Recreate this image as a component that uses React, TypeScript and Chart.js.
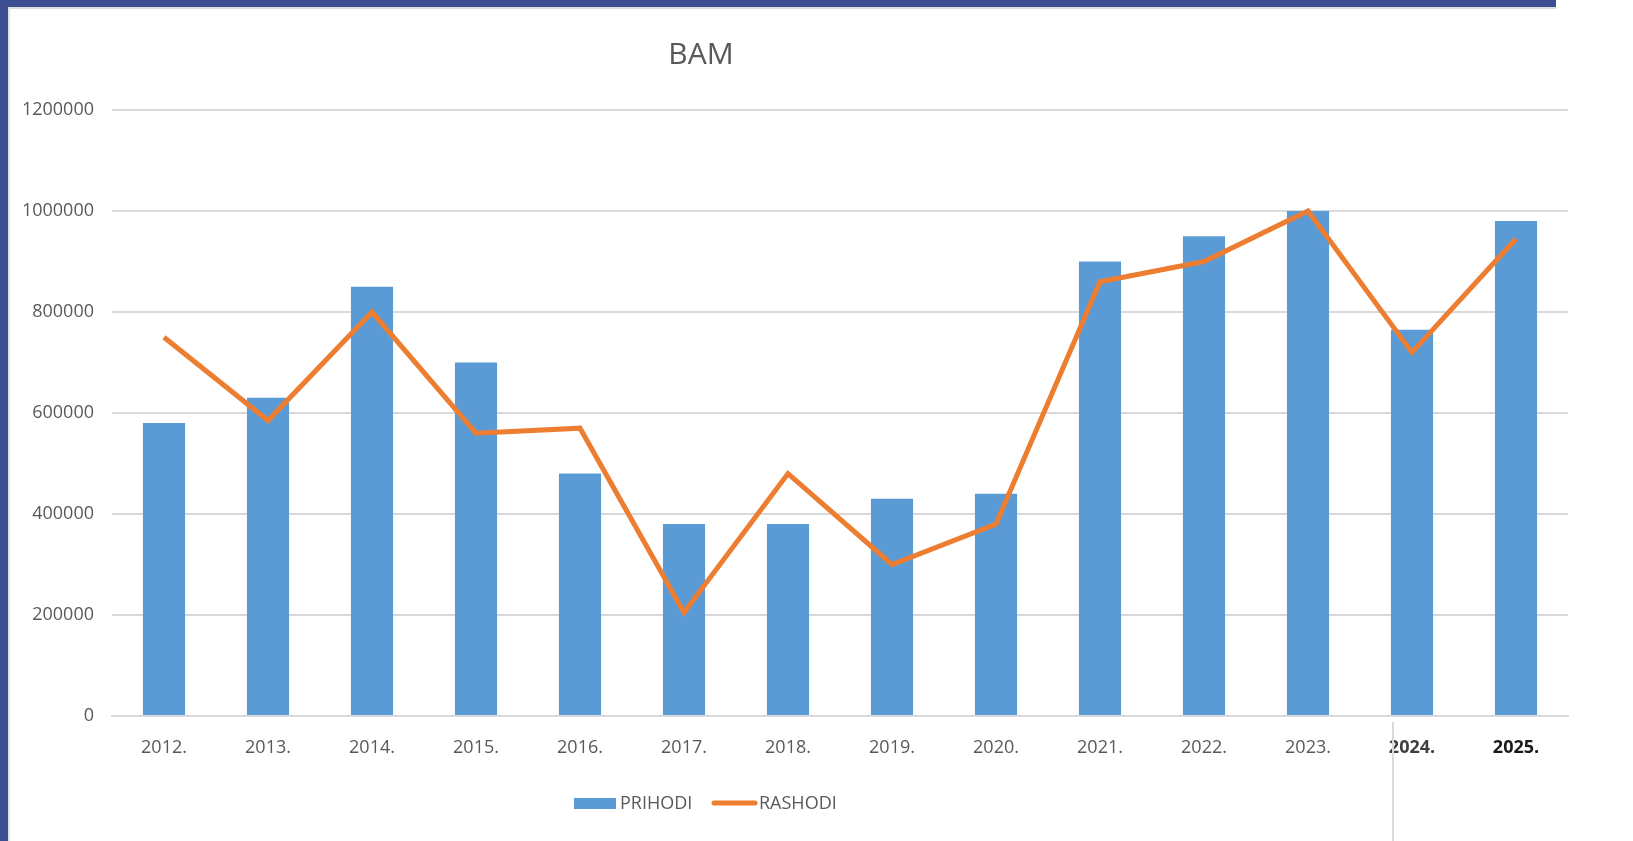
import React, { useEffect, useRef } from "react";
import { Chart, registerables } from "chart.js";

Chart.register(...registerables);

const categories = [
  "2012.", "2013.", "2014.", "2015.", "2016.", "2017.", "2018.",
  "2019.", "2020.", "2021.", "2022.", "2023.", "2024.", "2025.",
];
const prihodi = [
  580000, 630000, 850000, 700000, 480000, 380000, 380000,
  430000, 440000, 900000, 950000, 1000000, 765000, 980000,
];
const rashodi = [
  750000, 585000, 800000, 560000, 570000, 205000, 480000,
  300000, 380000, 860000, 900000, 1000000, 720000, 945000,
];
const titleText = "BAM";
const seriesNames = ["PRIHODI", "RASHODI"];

const BAR_COLOR = "#5B9BD5";
const LINE_COLOR = "#ED7D31";
const TEXT_COLOR = "#595959";
const GRID_COLOR = "#d9d9d9";
const FONT = "'Open Sans', sans-serif";

const overlayPlugin = {
  id: "overlay",
  afterDraw(chart: any) {
    const ctx = chart.ctx;
    const ds = chart.data.datasets;
    const barDs = ds.find((d: any) => d.type === "bar");
    const lineDs = ds.find((d: any) => d.type === "line");
    ctx.save();
    // title
    ctx.fillStyle = TEXT_COLOR;
    ctx.font = `30px ${FONT}`;
    ctx.textAlign = "center";
    ctx.textBaseline = "middle";
    ctx.fillText(titleText, 701, 55);
    // legend
    const ly = 803;
    ctx.font = `18px ${FONT}`;
    ctx.textAlign = "left";
    ctx.fillStyle = barDs.backgroundColor;
    ctx.fillRect(574, ly - 5, 42, 11);
    ctx.fillStyle = TEXT_COLOR;
    ctx.fillText(barDs.label, 620, ly + 1);
    ctx.strokeStyle = lineDs.borderColor;
    ctx.lineWidth = 5;
    ctx.lineCap = "round";
    ctx.beginPath();
    ctx.moveTo(714, ly);
    ctx.lineTo(755, ly);
    ctx.stroke();
    ctx.fillStyle = TEXT_COLOR;
    ctx.fillText(lineDs.label, 759, ly + 1);
    ctx.restore();
  },
};

export default function App() {
  const canvasRef = useRef<HTMLCanvasElement | null>(null);

  useEffect(() => {
    if (!canvasRef.current) return;
    const chart = new Chart(canvasRef.current, {
      type: "bar",
      data: {
        labels: categories,
        datasets: [
          {
            type: "line",
            label: seriesNames[1],
            data: rashodi,
            borderColor: LINE_COLOR,
            backgroundColor: LINE_COLOR,
            borderWidth: 5,
            pointRadius: 0,
            tension: 0,
            order: 0,
          } as any,
          {
            type: "bar",
            label: seriesNames[0],
            data: prihodi,
            backgroundColor: BAR_COLOR,
            barPercentage: 0.405,
            categoryPercentage: 1,
            order: 1,
          },
        ],
      },
      options: {
        responsive: false,
        animation: false,
        devicePixelRatio: 1,
        layout: { padding: { left: 12, right: 65, top: 110, bottom: 85 } },
        plugins: {
          legend: { display: false },
          title: { display: false },
          tooltip: { enabled: false },
        },
        scales: {
          x: {
            offset: true,
            grid: { display: false, drawTicks: false },
            border: { color: GRID_COLOR, width: 2 },
            ticks: {
              padding: 21,
              font: (c: any) => ({
                family: FONT,
                size: 18,
                weight: c.index >= 12 ? "bold" : "normal",
              }),
              color: (c: any) =>
                c.index === 13 ? "#1a1a1a" : c.index === 12 ? "#404040" : TEXT_COLOR,
            },
            afterFit: (s: any) => {
              s.height = 40;
            },
          },
          y: {
            min: 0,
            max: 1200000,
            grid: { color: GRID_COLOR, lineWidth: 2, drawTicks: false },
            border: { display: false },
            ticks: {
              stepSize: 200000,
              padding: 18,
              color: TEXT_COLOR,
              font: { family: FONT, size: 18 },
              callback: (v: any) => String(v),
            },
            afterFit: (s: any) => {
              s.width = 100;
            },
          },
        },
      },
      plugins: [overlayPlugin],
    });
    return () => chart.destroy();
  }, []);

  return (
    <div
      style={{
        position: "fixed",
        left: 0,
        top: 0,
        width: 1633,
        height: 841,
        background: "#ffffff",
        overflow: "hidden",
      }}
    >
      <canvas
        ref={canvasRef}
        width={1633}
        height={841}
        style={{ position: "absolute", left: 0, top: 0, width: 1633, height: 841 }}
      />
      <div style={{ position: "absolute", left: 0, top: 0, width: 1556, height: 7, background: "#3d4e92" }} />
      <div style={{ position: "absolute", left: 8, top: 7, width: 1548, height: 2, background: "#dcdcdc" }} />
      <div style={{ position: "absolute", left: 0, top: 0, width: 8, height: 841, background: "#3d4e92" }} />
      <div style={{ position: "absolute", left: 8, top: 7, width: 2, height: 834, background: "#e4e4e4" }} />
      <div style={{ position: "absolute", left: 1392, top: 722, width: 2, height: 119, background: "#dadada" }} />
    </div>
  );
}
